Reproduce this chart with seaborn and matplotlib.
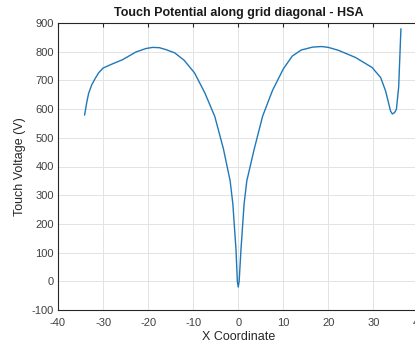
import matplotlib
matplotlib.use("Agg")
import matplotlib.pyplot as plt
import seaborn as sns
import pandas as pd

x_coord = [-34.1, -33.6, -33.2, -32.5, -31.7, -31.0, -30.0, -28.0, -25.7, -22.7,
           -20.5, -19.0, -17.5, -16.0, -14.1, -12.0, -9.7, -7.4, -5.2, -3.3,
           -1.8, -1.2, -0.5, -0.2, 0.0, 0.2, 0.6, 1.3, 1.9, 3.5,
           5.4, 7.6, 10.0, 12.0, 14.0, 16.5, 18.5, 20.0, 22.2, 26.0,
           29.7, 31.6, 32.7, 33.3, 33.8, 34.2, 34.7, 35.1, 35.6, 36.1]
touch_voltage = [579, 625, 655, 685, 708, 726, 743, 757, 772, 799,
                 811, 815, 814, 807, 796, 770, 726, 656, 574, 462,
                 350, 270, 110, 0, -20, 0, 110, 270, 350, 458,
                 575, 665, 740, 785, 806, 816, 818, 815, 805, 780,
                 745, 710, 663, 625, 593, 583, 588, 600, 677, 880]

x_ticks = [-40, -30, -20, -10, 0, 10, 20, 30, 40]
y_ticks = [-100, 0, 100, 200, 300, 400, 500, 600, 700, 800, 900]

df = pd.DataFrame({"x": x_coord, "v": touch_voltage})

sns.set_style("whitegrid")
plt.rcParams["font.family"] = ["Liberation Sans", "DejaVu Sans"]
plt.rcParams["axes.unicode_minus"] = False

fig = plt.figure(figsize=(4.15, 3.46), dpi=100)
W, H = 415, 346
ax = fig.add_axes([58 / W, (H - 310) / H, (418.5 - 58) / W, 287 / H])

sns.lineplot(data=df, x="x", y="v", ax=ax, sort=False, estimator=None,
             color="#1f78b8", linewidth=1.0)

ax.set_xlim(-40, 40)
ax.set_ylim(-100, 900)
ax.set_xticks(x_ticks)
ax.set_yticks(y_ticks)
ax.grid(True, color="#e3e3e3", linewidth=0.7)
for side, sp in ax.spines.items():
    sp.set_color("#262626")
    sp.set_linewidth(0.8)
ax.tick_params(direction="in", length=3, width=0.8, top=True, right=True,
               labelsize=8, colors="#262626", labelcolor="#404040", pad=3)
ax.tick_params(axis="x", pad=6)
ax.set_xlabel("X Coordinate", fontsize=9, color="#262626", labelpad=2)
ax.set_ylabel("Touch Voltage (V)", fontsize=9, color="#262626", labelpad=4)
ax.set_title("Touch Potential along grid diagonal - HSA", fontsize=9,
             fontweight="bold", color="#1a1a1a", pad=5)

fig.savefig("out.png", dpi=100)
